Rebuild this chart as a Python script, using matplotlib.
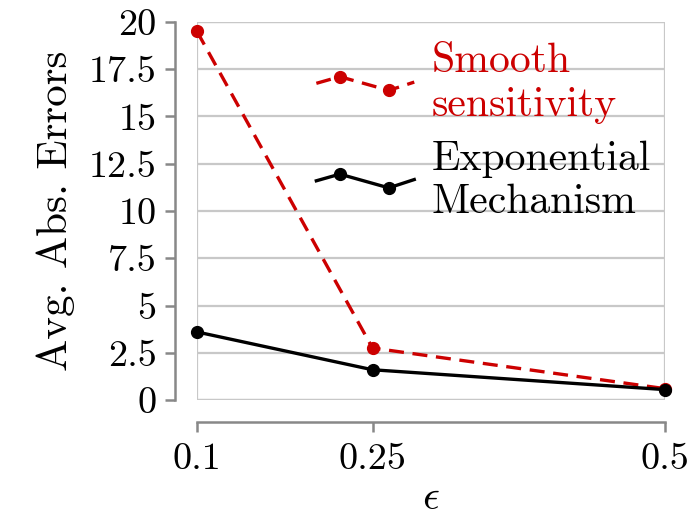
import numpy as np
import matplotlib
matplotlib.use("Agg")
import matplotlib.pyplot as plt
from matplotlib.lines import Line2D
from matplotlib.patches import Rectangle
from matplotlib.legend_handler import HandlerBase

plt.rcParams["font.family"] = ["cmr10", "DejaVu Serif"]
plt.rcParams["mathtext.fontset"] = "cm"
plt.rcParams["axes.formatter.use_mathtext"] = True

eps = [0.1, 0.25, 0.5]
smooth = [19.5, 2.75, 0.6]
expo = [3.6, 1.6, 0.55]
yticks = [0, 2.5, 5, 7.5, 10, 12.5, 15, 17.5, 20]
ytick_labels = ["0", "2.5", "5", "7.5", "10", "12.5", "15", "17.5", "20"]

RED = "#cc0000"
GRID = "#c8c8c8"
SPINE = "#888888"


class ZigZag(HandlerBase):
    # legend sample drawn as a small bent polyline with two markers
    def create_artists(self, legend, orig, xd, yd, w, h, fontsize, trans):
        xs = np.array([0.0, 0.24, 0.74, 1.0]) * w - xd
        ys = h / 2 - yd + np.array([0.0, 0.16, -0.17, 0.03]) * fontsize
        ln = Line2D(xs, ys, color=orig.get_color(), lw=orig.get_linewidth(),
                    ls=orig.get_linestyle(), transform=trans)
        if orig.get_linestyle() == "--":
            ln.set_dashes((4.5, 2.6))
        mk = Line2D(xs[1:3], ys[1:3], color=orig.get_color(), ls="none", marker="o",
                    markersize=orig.get_markersize(), transform=trans)
        return [ln, mk]


fig = plt.figure(figsize=(6.89, 5.12), dpi=100)
ax = fig.add_axes([197 / 689, 1 - 400 / 512, 468 / 689, 378 / 512])

l1, = ax.plot(eps, smooth, color=RED, lw=2.4, ls="--", dashes=(4.5, 2.6),
              marker="o", markersize=8.5, clip_on=False, zorder=4,
              label="Smooth\nsensitivity")
l2, = ax.plot(eps, expo, color="black", lw=2.4, marker="o", markersize=8.5,
              clip_on=False, zorder=5, label="Exponential\nMechanism")

ax.set_xlim(0.1, 0.5)
ax.set_ylim(0, 20)
ax.set_xticks(eps)
ax.set_xticklabels(["0.1", "0.25", "0.5"])
ax.set_yticks(yticks)
ax.set_yticklabels(ytick_labels)

ax.grid(True, axis="y", color=GRID, lw=1.6)
ax.set_axisbelow(True)
ax.add_patch(Rectangle((0, 0), 1, 1, transform=ax.transAxes, fill=False,
                       ec=GRID, lw=1.6, zorder=0.5))

for side in ["top", "right"]:
    ax.spines[side].set_visible(False)
for side in ["left", "bottom"]:
    ax.spines[side].set_position(("outward", 16))
    ax.spines[side].set_color(SPINE)
    ax.spines[side].set_linewidth(1.8)
ax.spines["left"].set_bounds(0, 20)
ax.spines["bottom"].set_bounds(0.1, 0.5)

ax.tick_params(axis="both", colors=SPINE, width=1.8, length=7, labelsize=27.5,
               labelcolor="black")
ax.tick_params(axis="y", pad=6)
ax.tick_params(axis="x", pad=8)

ax.set_ylabel("Avg. Abs. Errors", fontsize=31, labelpad=10)
ax.set_xlabel(r"$\epsilon$", fontsize=30, labelpad=2)

ax.legend(handles=[l1, l2], handler_map={Line2D: ZigZag()}, loc="upper left",
          bbox_to_anchor=(0.255, 0.945), frameon=False, fontsize=30,
          handlelength=2.35, handletextpad=0.42, labelspacing=0.4,
          borderpad=0, borderaxespad=0, labelcolor="linecolor")

fig.savefig("out.png", dpi=100)
